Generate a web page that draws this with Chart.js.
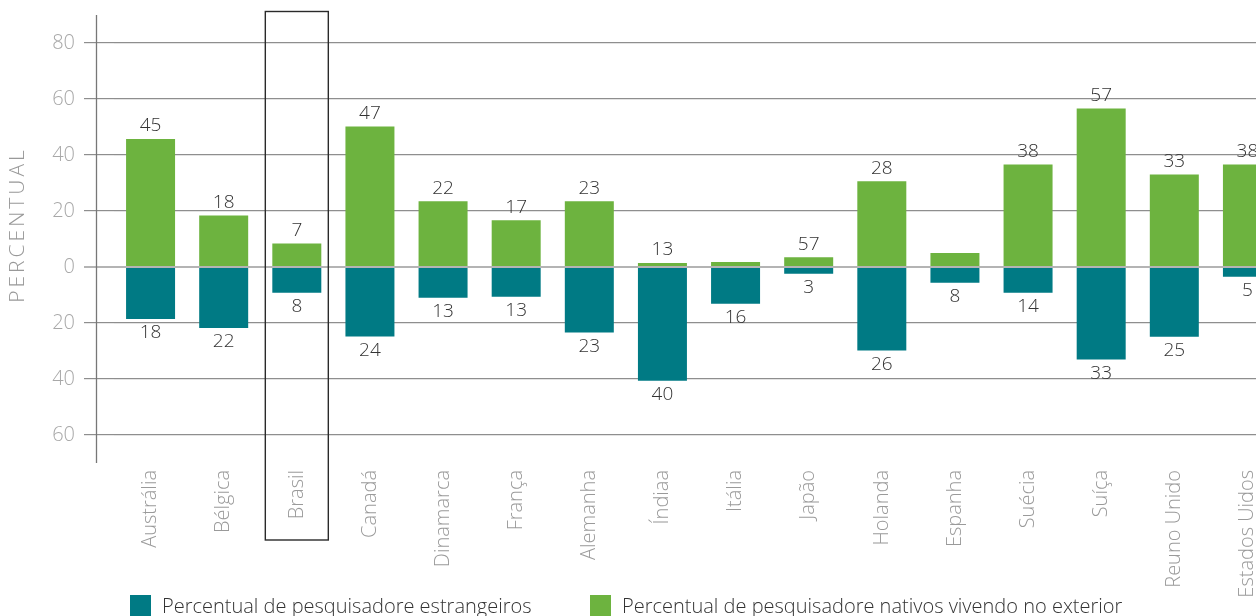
<!DOCTYPE html>
<html>
<head>
<meta charset="utf-8">
<script src="https://cdn.jsdelivr.net/npm/chart.js@4.4.1/dist/chart.umd.min.js"></script>
<style>
  html, body { margin: 0; padding: 0; width: 1256px; height: 616px; overflow: hidden; background: #fff; }
  #wrap { position: relative; width: 1284px; height: 616px; }
  #c { position: absolute; left: 0; top: 0; }
  .lg { position: absolute; font-family: 'Open Sans', sans-serif; font-weight: 300; font-size: 20px; color: #333; white-space: nowrap; line-height: 21px; }
  .sw { position: absolute; width: 21px; height: 21px; }
</style>
</head>
<body>
<div id="wrap">
  <canvas id="c" width="1284" height="616"></canvas>
  <div class="sw" id="sw0" style="left:130px; top:595px;"></div>
  <div class="lg" id="lg0" style="left:162px; top:595px;"></div>
  <div class="sw" id="sw1" style="left:590px; top:595px;"></div>
  <div class="lg" id="lg1" style="left:622px; top:595px;"></div>
</div>
<script>
// ---- data ----
const categories = ['Austrália', 'Bélgica', 'Brasil', 'Canadá', 'Dinamarca', 'França', 'Alemanha', 'Índiaa', 'Itália', 'Japão', 'Holanda', 'Espanha', 'Suécia', 'Suíça', 'Reuno Unido', 'Estados Uidos'];
const nativosExterior = [45.7, 18.4, 8.4, 50.2, 23.5, 16.7, 23.5, 1.4, 1.8, 3.5, 30.6, 5.0, 36.6, 56.6, 33.0, 36.6];
const estrangeiros = [-18.6, -21.8, -9.2, -24.8, -11.0, -10.6, -23.4, -40.6, -13.1, -2.4, -29.8, -5.6, -9.2, -33.0, -24.9, -3.5];
const nativosLabels = ['45', '18', '7', '47', '22', '17', '23', '13', null, '57', '28', null, '38', '57', '33', '38'];
const estrangeirosLabels = ['18', '22', '8', '24', '13', '13', '23', '40', '16', '3', '26', '8', '14', '33', '25', '5'];
const yTicks = [-60, -40, -20, 0, 20, 40, 60, 80];
const seriesNames = ['Percentual de pesquisadore estrangeiros', 'Percentual de pesquisadore nativos vivendo no exterior'];
const highlightCategory = 'Brasil';
const axisTitle = 'PERCENTUAL';

const TEAL = '#007a84';
const GREEN = '#6db33f';
const FONT = "'Open Sans', sans-serif";

document.getElementById('sw0').style.background = TEAL;
document.getElementById('sw1').style.background = GREEN;
document.getElementById('lg0').textContent = seriesNames[0];
document.getElementById('lg1').textContent = seriesNames[1];

const extras = {
  id: 'extras',
  afterDatasetsDraw(chart) {
    const ctx = chart.ctx;
    const ca = chart.chartArea;
    const xs = chart.scales.x;
    // value labels
    ctx.save();
    ctx.font = '300 19px ' + FONT;
    ctx.fillStyle = '#333';
    ctx.textAlign = 'center';
    ctx.textBaseline = 'middle';
    const metaN = chart.getDatasetMeta(1);
    metaN.data.forEach((bar, i) => {
      if (nativosLabels[i] != null) ctx.fillText(nativosLabels[i], bar.x, bar.y - 13);
    });
    const metaE = chart.getDatasetMeta(0);
    metaE.data.forEach((bar, i) => {
      if (estrangeirosLabels[i] != null) ctx.fillText(estrangeirosLabels[i], bar.x, bar.y + 14);
    });
    ctx.restore();
    // y axis line
    ctx.save();
    ctx.strokeStyle = '#777';
    ctx.lineWidth = 1.3;
    ctx.beginPath();
    ctx.moveTo(96.5, ca.top);
    ctx.lineTo(96.5, ca.bottom);
    ctx.stroke();
    ctx.restore();
    // highlight box
    const idx = categories.indexOf(highlightCategory);
    const cx = xs.getPixelForValue(idx);
    ctx.save();
    ctx.strokeStyle = '#2a2a2a';
    ctx.lineWidth = 1.4;
    ctx.strokeRect(cx - 31.5, ca.top - 3.5, 63, (ca.bottom + 77) - (ca.top - 3.5));
    ctx.restore();
    // axis title
    ctx.save();
    ctx.font = '300 21px ' + FONT;
    ctx.fillStyle = '#999';
    ctx.textAlign = 'center';
    ctx.textBaseline = 'middle';
    try { ctx.letterSpacing = '3px'; } catch (e) {}
    ctx.translate(18, 225);
    ctx.rotate(-Math.PI / 2);
    ctx.fillText(axisTitle, 0, 0);
    ctx.restore();
  }
};

new Chart(document.getElementById('c'), {
  type: 'bar',
  data: {
    labels: categories,
    datasets: [
      { label: seriesNames[0], data: estrangeiros, backgroundColor: TEAL, borderWidth: 0 },
      { label: seriesNames[1], data: nativosExterior, backgroundColor: GREEN, borderWidth: 0 }
    ]
  },
  options: {
    responsive: false,
    animation: false,
    events: [],
    layout: { padding: { top: 15, left: 0, right: 0, bottom: 0 } },
    datasets: { bar: { barPercentage: 1, categoryPercentage: 0.67 } },
    plugins: { legend: { display: false }, tooltip: { enabled: false } },
    scales: {
      x: {
        stacked: true,
        grid: { display: false },
        border: { display: false },
        ticks: {
          autoSkip: false,
          minRotation: 90,
          maxRotation: 90,
          padding: -1,
          color: '#9a9a9a',
          font: { family: FONT, size: 20, weight: 300 }
        },
        afterFit(s) { s.height = 153; s.paddingLeft = 0; s.paddingRight = 0; }
      },
      y: {
        stacked: true,
        min: -70,
        max: 90,
        afterBuildTicks(s) { s.ticks = yTicks.map(v => ({ value: v })); },
        grid: {
          color: c => (c.tick && c.tick.value === 0) ? '#b4b4b4' : '#8e8e8e',
          lineWidth: c => (c.tick && c.tick.value === 0) ? 2 : 1.2,
          tickLength: 30,
          drawTicks: true
        },
        border: { display: false },
        ticks: {
          padding: 9,
          color: '#a8a8a8',
          font: { family: FONT, size: 20, weight: 300 },
          callback: v => String(Math.abs(v))
        },
        afterFit(s) { s.width = 114; s.paddingTop = 0; s.paddingBottom = 0; }
      }
    }
  },
  plugins: [extras]
});
</script>
</body>
</html>
